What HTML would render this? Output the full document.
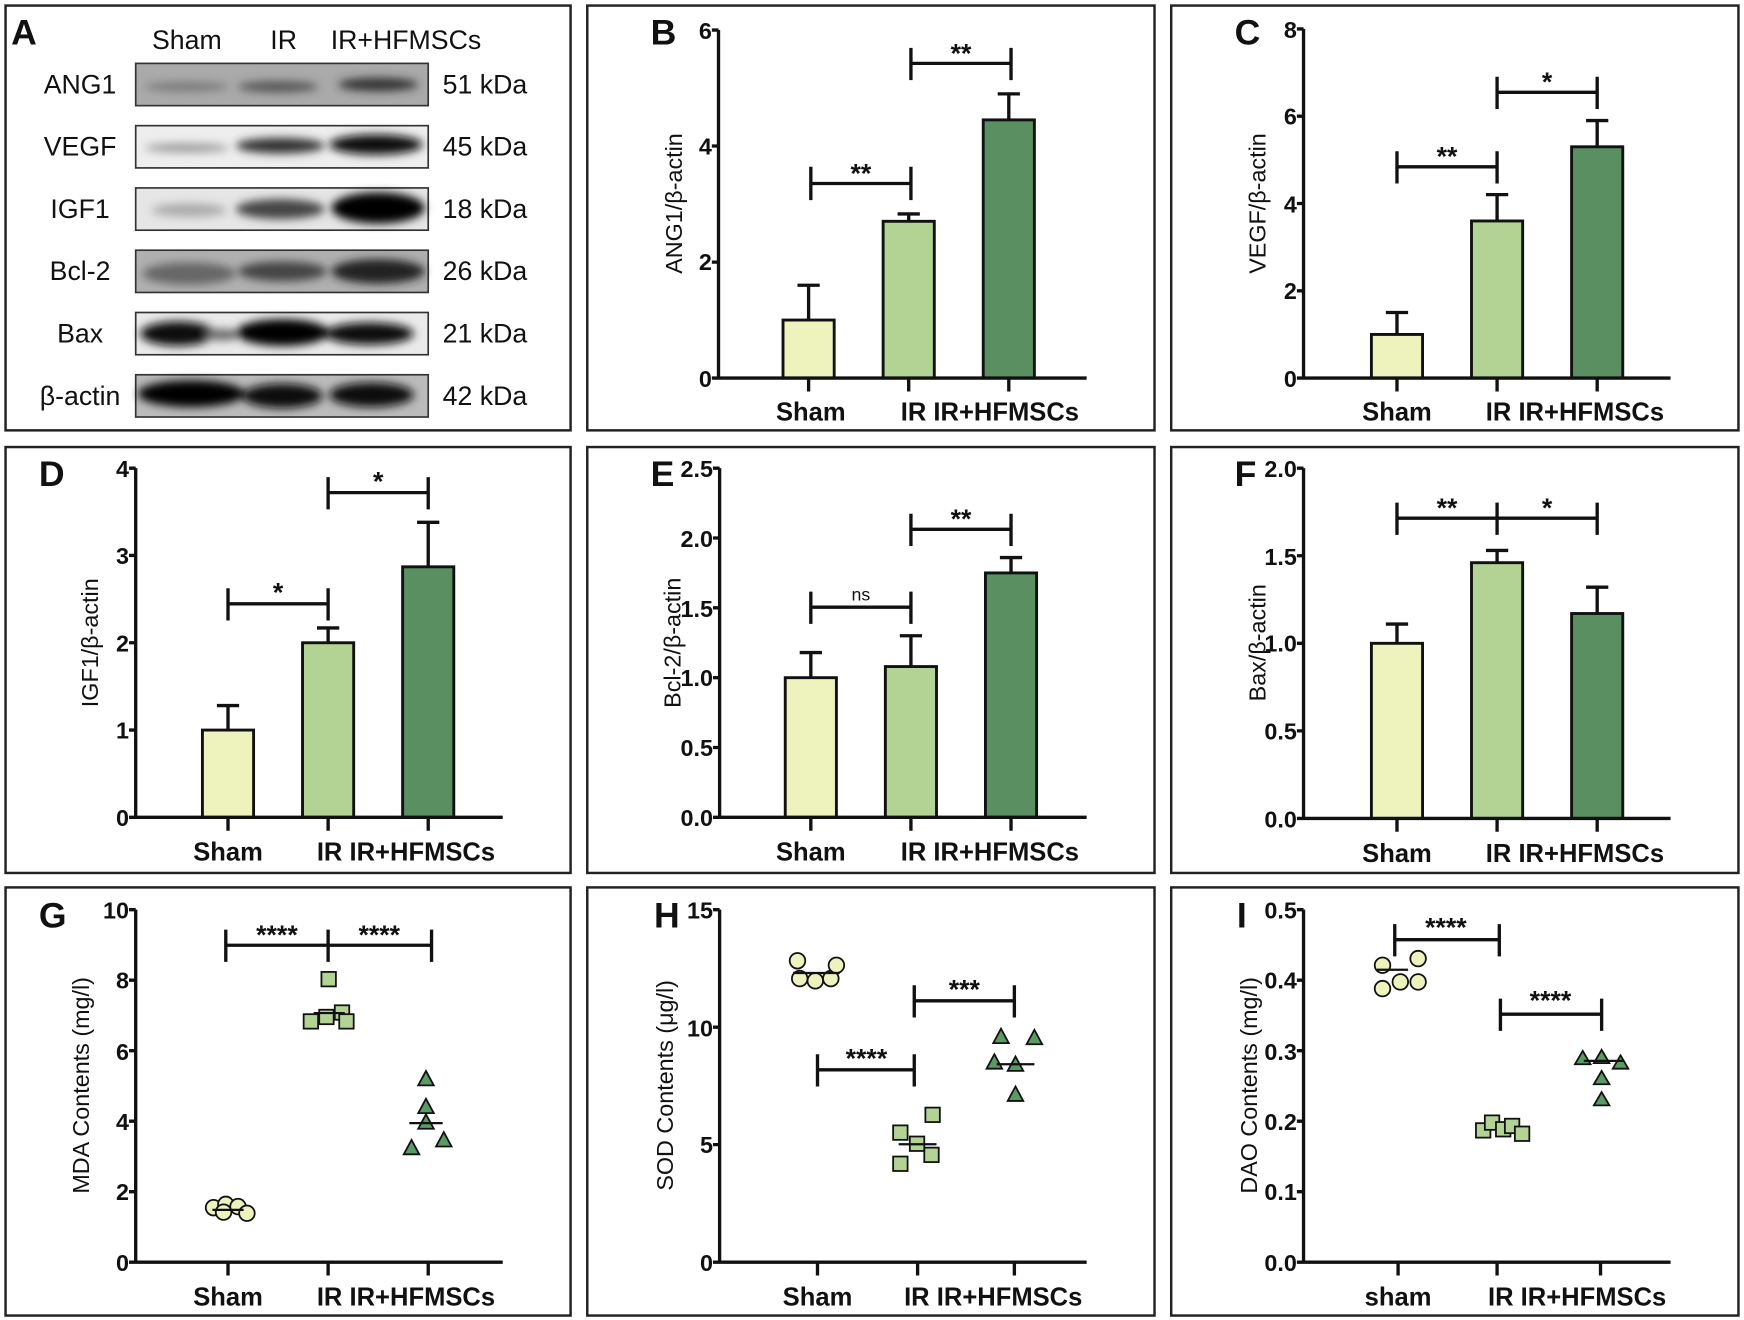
<!DOCTYPE html>
<html><head><meta charset="utf-8"><style>
html,body{margin:0;padding:0;background:#fff;}
svg{display:block;}
text{font-family:"Liberation Sans",Arial,sans-serif;font-weight:bold;fill:#111;}
.ax{stroke:#111;stroke-width:3;fill:none;}
.bar{stroke:#111;stroke-width:2.6;}
.fr{fill:none;stroke:#222;stroke-width:2.2;}
text.tk{font-size:21px;text-anchor:end;}
text.xl{font-size:23px;text-anchor:middle;}
text.yl{font-size:21px;text-anchor:middle;font-weight:normal;}
text.pl{font-size:32px;}
text.st{font-size:24px;text-anchor:middle;}
text.wl{font-size:24px;font-weight:normal;text-anchor:middle;}
text.wr{font-size:24px;font-weight:normal;text-anchor:start;}
</style></head><body>
<svg width="1744" height="1320" viewBox="0 0 1568 1187" preserveAspectRatio="none" xmlns="http://www.w3.org/2000/svg">
<defs>
<filter id="bl" x="-20%" y="-50%" width="140%" height="200%"><feGaussianBlur stdDeviation="4"/></filter>
</defs>
<rect class="fr" x="5" y="5" width="508" height="382"/>
<rect class="fr" x="528" y="5" width="510" height="382"/>
<rect class="fr" x="1053" y="5" width="510" height="382"/>
<rect class="fr" x="5" y="402" width="508" height="383"/>
<rect class="fr" x="528" y="402" width="510" height="383"/>
<rect class="fr" x="1053" y="402" width="510" height="383"/>
<rect class="fr" x="5" y="798" width="508" height="385"/>
<rect class="fr" x="528" y="798" width="510" height="385"/>
<rect class="fr" x="1053" y="798" width="510" height="385"/>

<!-- Panel A -->
<text x="10" y="40" class="pl">A</text>
<text x="168" y="44" class="wl">Sham</text>
<text x="255" y="44" class="wl">IR</text>
<text x="365" y="44" class="wl">IR+HFMSCs</text>
<text x="72" y="84" class="wl">ANG1</text><text x="72" y="140" class="wl">VEGF</text><text x="72" y="196" class="wl">IGF1</text>
<text x="72" y="252" class="wl">Bcl-2</text><text x="72" y="308" class="wl">Bax</text><text x="72" y="364" class="wl">β-actin</text>
<text x="398" y="84" class="wr">51 kDa</text><text x="398" y="140" class="wr">45 kDa</text><text x="398" y="196" class="wr">18 kDa</text>
<text x="398" y="252" class="wr">26 kDa</text><text x="398" y="308" class="wr">21 kDa</text><text x="398" y="364" class="wr">42 kDa</text>
<rect x="122" y="57" width="263" height="38" fill="#aaa" stroke="#333" stroke-width="1.5"/>
<rect x="122" y="113" width="263" height="38" fill="#eee" stroke="#333" stroke-width="1.5"/>
<rect x="122" y="169" width="263" height="38" fill="#e6e6e6" stroke="#333" stroke-width="1.5"/>
<rect x="122" y="225" width="263" height="38" fill="#b0b0b0" stroke="#333" stroke-width="1.5"/>
<rect x="122" y="281" width="263" height="38" fill="#eaeaea" stroke="#333" stroke-width="1.5"/>
<rect x="122" y="337" width="263" height="38" fill="#bbb" stroke="#333" stroke-width="1.5"/>
<g filter="url(#bl)">
<ellipse cx="168" cy="78" rx="38" ry="4" fill="#777"/><ellipse cx="250" cy="78" rx="36" ry="5" fill="#555"/><ellipse cx="340" cy="76" rx="36" ry="6" fill="#333"/>
<ellipse cx="168" cy="133" rx="38" ry="4" fill="#999"/><ellipse cx="252" cy="131" rx="40" ry="7" fill="#333"/><ellipse cx="338" cy="130" rx="42" ry="9" fill="#111"/>
<ellipse cx="170" cy="189" rx="34" ry="6" fill="#aaa"/><ellipse cx="252" cy="188" rx="40" ry="9" fill="#444"/><ellipse cx="340" cy="187" rx="42" ry="14" fill="#000"/>
<ellipse cx="170" cy="246" rx="42" ry="10" fill="#666"/><ellipse cx="254" cy="244" rx="40" ry="9" fill="#444"/><ellipse cx="340" cy="244" rx="42" ry="11" fill="#222"/>
<ellipse cx="160" cy="300" rx="34" ry="11" fill="#111"/><ellipse cx="200" cy="301" rx="16" ry="5" fill="#666"/><ellipse cx="254" cy="299" rx="42" ry="12" fill="#000"/><ellipse cx="332" cy="300" rx="40" ry="10" fill="#111"/>
<ellipse cx="172" cy="354" rx="48" ry="12" fill="#000"/><ellipse cx="254" cy="356" rx="36" ry="11" fill="#111"/><ellipse cx="334" cy="355" rx="38" ry="11" fill="#111"/>
</g>

<!-- Panel B -->
<text x="585" y="40" class="pl">B</text>
<text class="yl" transform="translate(613,183) rotate(-90)">ANG1/β-actin</text>
<text x="640" y="35" class="tk">6</text><text x="640" y="139" class="tk">4</text><text x="640" y="243" class="tk">2</text><text x="640" y="348" class="tk">0</text>
<rect x="704" y="287.8" width="46" height="52.2" fill="#eef2bd" class="bar"/>
<rect x="794" y="199" width="46" height="141" fill="#b2d394" class="bar"/>
<rect x="884" y="107.8" width="46" height="232.2" fill="#5a8f62" class="bar"/>
<path class="ax" d="M727,287.8V256.5M717,256.5H737M817,199V192.4M807,192.4H827M907,107.8V84.4M897,84.4H917"/>
<path class="ax" d="M646,27V340M640,27H646M640,131.3H646M640,235.7H646M640,340H977M727,340V352M817,340V352M907,340V352"/>
<path class="ax" d="M729,150V180M729,165H819M819,150V180M819,43V72M819,57H909M909,43V72"/>
<text x="774" y="164" class="st">**</text><text x="864" y="56" class="st">**</text>
<text x="729" y="378" class="xl">Sham</text><text x="890" y="378" class="xl">IR IR+HFMSCs</text>

<!-- Panel C -->
<text x="1110" y="40" class="pl">C</text>
<text class="yl" transform="translate(1138,183) rotate(-90)">VEGF/β-actin</text>
<text x="1166" y="34" class="tk">8</text><text x="1166" y="112" class="tk">6</text><text x="1166" y="191" class="tk">4</text><text x="1166" y="269" class="tk">2</text><text x="1166" y="348" class="tk">0</text>
<rect x="1233" y="300.75" width="46" height="39.25" fill="#eef2bd" class="bar"/>
<rect x="1323" y="198.7" width="46" height="141.3" fill="#b2d394" class="bar"/>
<rect x="1413" y="132" width="46" height="208" fill="#5a8f62" class="bar"/>
<path class="ax" d="M1256,300.75V281M1246,281H1266M1346,198.7V175M1336,175H1356M1436,132V108.4M1426,108.4H1446"/>
<path class="ax" d="M1172,26V340M1166,26H1172M1166,104.5H1172M1166,183H1172M1166,261.5H1172M1166,340H1502M1256,340V352M1346,340V352M1436,340V352"/>
<path class="ax" d="M1256,136V165M1256,150H1346M1346,136V165M1346,69V98M1346,83H1436M1436,69V98"/>
<text x="1301" y="149" class="st">**</text><text x="1391" y="82" class="st">*</text>
<text x="1256" y="378" class="xl">Sham</text><text x="1416" y="378" class="xl">IR IR+HFMSCs</text>

<!-- Panel D -->
<text x="35" y="437" class="pl">D</text>
<text class="yl" transform="translate(88,578) rotate(-90)">IGF1/β-actin</text>
<text x="116" y="429" class="tk">4</text><text x="116" y="507" class="tk">3</text><text x="116" y="586" class="tk">2</text><text x="116" y="664" class="tk">1</text><text x="116" y="743" class="tk">0</text>
<rect x="182" y="656.5" width="46" height="78.5" fill="#eef2bd" class="bar"/>
<rect x="272" y="578" width="46" height="157" fill="#b2d394" class="bar"/>
<rect x="362" y="509.7" width="46" height="225.3" fill="#5a8f62" class="bar"/>
<path class="ax" d="M205,656.5V634.5M195,634.5H215M295,578V564.7M285,564.7H305M385,509.7V469.7M375,469.7H395"/>
<path class="ax" d="M122,421V735M116,421H122M116,499.5H122M116,578H122M116,656.5H122M116,735H452M205,735V747M295,735V747M385,735V747"/>
<path class="ax" d="M205,529V558M205,543H295M295,529V558M295,429V458M295,443H385M385,429V458"/>
<text x="250" y="541" class="st">*</text><text x="340" y="441" class="st">*</text>
<text x="205" y="774" class="xl">Sham</text><text x="365" y="774" class="xl">IR IR+HFMSCs</text>

<!-- Panel E -->
<text x="585" y="437" class="pl">E</text>
<text class="yl" transform="translate(612,578) rotate(-90)">Bcl-2/β-actin</text>
<text x="641" y="429" class="tk">2.5</text><text x="641" y="492" class="tk">2.0</text><text x="641" y="555" class="tk">1.5</text><text x="641" y="617" class="tk">1.0</text><text x="641" y="680" class="tk">0.5</text><text x="641" y="743" class="tk">0.0</text>
<rect x="706" y="609.4" width="46" height="125.6" fill="#eef2bd" class="bar"/>
<rect x="796" y="599.4" width="46" height="135.6" fill="#b2d394" class="bar"/>
<rect x="886" y="515.2" width="46" height="219.8" fill="#5a8f62" class="bar"/>
<path class="ax" d="M729,609.4V586.8M719,586.8H739M819,599.4V571.7M809,571.7H829M909,515.2V501.4M899,501.4H919"/>
<path class="ax" d="M647,421V735M641,421H647M641,483.8H647M641,546.6H647M641,609.4H647M641,672.2H647M641,735H977M729,735V747M819,735V747M909,735V747"/>
<path class="ax" d="M729,532V561M729,546H819M819,532V561M819,462V491M819,476H909M909,462V491"/>
<text x="774" y="540" class="st" style="font-size:16px;font-weight:normal">ns</text><text x="864" y="475" class="st">**</text>
<text x="729" y="774" class="xl">Sham</text><text x="890" y="774" class="xl">IR IR+HFMSCs</text>

<!-- Panel F -->
<text x="1110" y="437" class="pl">F</text>
<text class="yl" transform="translate(1138,578) rotate(-90)">Bax/β-actin</text>
<text x="1166" y="429" class="tk">2.0</text><text x="1166" y="508" class="tk">1.5</text><text x="1166" y="586" class="tk">1.0</text><text x="1166" y="665" class="tk">0.5</text><text x="1166" y="744" class="tk">0.0</text>
<rect x="1233" y="578.5" width="46" height="157.5" fill="#eef2bd" class="bar"/>
<rect x="1323" y="506" width="46" height="230" fill="#b2d394" class="bar"/>
<rect x="1413" y="551.7" width="46" height="184.3" fill="#5a8f62" class="bar"/>
<path class="ax" d="M1256,578.5V561.2M1246,561.2H1266M1346,506V495M1336,495H1356M1436,551.7V528M1426,528H1446"/>
<path class="ax" d="M1172,421V736M1166,421H1172M1166,499.75H1172M1166,578.5H1172M1166,657.25H1172M1166,736H1502M1256,736V748M1346,736V748M1436,736V748"/>
<path class="ax" d="M1256,452V481M1256,466H1436M1346,452V481M1436,452V481"/>
<text x="1301" y="465" class="st">**</text><text x="1391" y="465" class="st">*</text>
<text x="1256" y="775" class="xl">Sham</text><text x="1416" y="775" class="xl">IR IR+HFMSCs</text>

<!-- Panel G -->
<text x="35" y="834" class="pl">G</text>
<text class="yl" transform="translate(80,976) rotate(-90)">MDA Contents (mg/l)</text>
<text x="116" y="826" class="tk">10</text><text x="116" y="889" class="tk">8</text><text x="116" y="953" class="tk">6</text><text x="116" y="1016" class="tk">4</text><text x="116" y="1079" class="tk">2</text><text x="116" y="1143" class="tk">0</text>
<path class="ax" d="M122,818V1135M116,818H122M116,881.4H122M116,944.8H122M116,1008.2H122M116,1071.6H122M116,1135H452M205,1135V1147M295,1135V1147M385,1135V1147"/>
<path class="ax" d="M203,836V865M203,850H388M295,836V865M388,836V865"/>
<text x="249" y="849" class="st">****</text><text x="341" y="849" class="st">****</text>
<g stroke="#111" stroke-width="1.6">
<circle cx="192" cy="1086" r="7" fill="#eef2bd"/><circle cx="203" cy="1083" r="7" fill="#eef2bd"/><circle cx="214" cy="1085" r="7" fill="#eef2bd"/><circle cx="222" cy="1091" r="7" fill="#eef2bd"/><circle cx="201" cy="1090" r="7" fill="#eef2bd"/>
<rect x="289" y="874" width="13" height="13" fill="#b2d394"/><rect x="273" y="912" width="13" height="13" fill="#b2d394"/><rect x="287" y="908" width="13" height="13" fill="#b2d394"/><rect x="301" y="904" width="13" height="13" fill="#b2d394"/><rect x="305" y="912" width="13" height="13" fill="#b2d394"/>
<path d="M383,963L390,976H376Z M370,1025L377,1038H363Z M383,988L390,1001H376Z M399,1018L406,1031H392Z M383,1002L390,1015H376Z" fill="#5a9a65"/>
</g>
<path class="ax" d="M191,1088H219M282,911H310M368,1010H398" style="stroke-width:2"/>
<text x="205" y="1174" class="xl">Sham</text><text x="365" y="1174" class="xl">IR IR+HFMSCs</text>

<!-- Panel H -->
<text x="588" y="834" class="pl">H</text>
<text class="yl" transform="translate(605,976) rotate(-90)">SOD Contents (μg/l)</text>
<text x="641" y="826" class="tk">15</text><text x="641" y="932" class="tk">10</text><text x="641" y="1037" class="tk">5</text><text x="641" y="1143" class="tk">0</text>
<path class="ax" d="M647,818V1135M641,818H647M641,923.7H647M641,1029.3H647M641,1135H977M735,1135V1147M825,1135V1147M912,1135V1147"/>
<path class="ax" d="M735,948V977M735,962H822M822,948V977M822,886V915M822,900H912M912,886V915"/>
<text x="779" y="960" class="st">****</text><text x="867" y="898" class="st">***</text>
<g stroke="#111" stroke-width="1.6">
<circle cx="717" cy="864" r="7" fill="#eef2bd"/><circle cx="733" cy="882" r="7" fill="#eef2bd"/><circle cx="747" cy="880" r="7" fill="#eef2bd"/><circle cx="752" cy="868" r="7" fill="#eef2bd"/><circle cx="719" cy="880" r="7" fill="#eef2bd"/>
<rect x="803" y="1012" width="13" height="13" fill="#b2d394"/><rect x="832" y="996" width="13" height="13" fill="#b2d394"/><rect x="803" y="1040" width="13" height="13" fill="#b2d394"/><rect x="831" y="1032" width="13" height="13" fill="#b2d394"/><rect x="818" y="1022" width="13" height="13" fill="#b2d394"/>
<path d="M894,948L901,961H887Z M913,950L920,963H906Z M930,926L937,939H923Z M900,925L907,938H893Z M913,977L920,990H906Z" fill="#5a9a65"/>
</g>
<path class="ax" d="M713,875H755M808,1029H842M896,957H930" style="stroke-width:2"/>
<text x="735" y="1174" class="xl">Sham</text><text x="893" y="1174" class="xl">IR IR+HFMSCs</text>

<!-- Panel I -->
<text x="1112" y="834" class="pl">I</text>
<text class="yl" transform="translate(1130,976) rotate(-90)">DAO Contents (mg/l)</text>
<text x="1166" y="826" class="tk">0.5</text><text x="1166" y="889" class="tk">0.4</text><text x="1166" y="953" class="tk">0.3</text><text x="1166" y="1016" class="tk">0.2</text><text x="1166" y="1079" class="tk">0.1</text><text x="1166" y="1143" class="tk">0.0</text>
<path class="ax" d="M1172,818V1135M1166,818H1172M1166,881.4H1172M1166,944.8H1172M1166,1008.2H1172M1166,1071.6H1172M1166,1135H1502M1257,1135V1147M1346,1135V1147M1439,1135V1147"/>
<path class="ax" d="M1254,831V860M1254,845H1348M1348,831V860M1349,898V927M1349,912H1440M1440,898V927"/>
<text x="1300" y="842" class="st">****</text><text x="1394" y="908" class="st">****</text>
<g stroke="#111" stroke-width="1.6">
<circle cx="1243" cy="868" r="7" fill="#eef2bd"/><circle cx="1243" cy="889" r="7" fill="#eef2bd"/><circle cx="1259" cy="883" r="7" fill="#eef2bd"/><circle cx="1275" cy="883" r="7" fill="#eef2bd"/><circle cx="1275" cy="862" r="7" fill="#eef2bd"/>
<rect x="1327" y="1010" width="13" height="13" fill="#b2d394"/><rect x="1335" y="1003" width="13" height="13" fill="#b2d394"/><rect x="1345" y="1009" width="13" height="13" fill="#b2d394"/><rect x="1353" y="1006" width="13" height="13" fill="#b2d394"/><rect x="1362" y="1013" width="13" height="13" fill="#b2d394"/>
<path d="M1423,945L1430,957H1416Z M1440,944L1447,956H1433Z M1457,949L1464,961H1450Z M1440,963L1447,975H1433Z M1440,982L1447,994H1433Z" fill="#5a9a65"/>
</g>
<path class="ax" d="M1238,872H1266M1424,954H1460" style="stroke-width:2"/>
<text x="1257" y="1174" class="xl">sham</text><text x="1418" y="1174" class="xl">IR IR+HFMSCs</text>
</svg>
</body></html>
